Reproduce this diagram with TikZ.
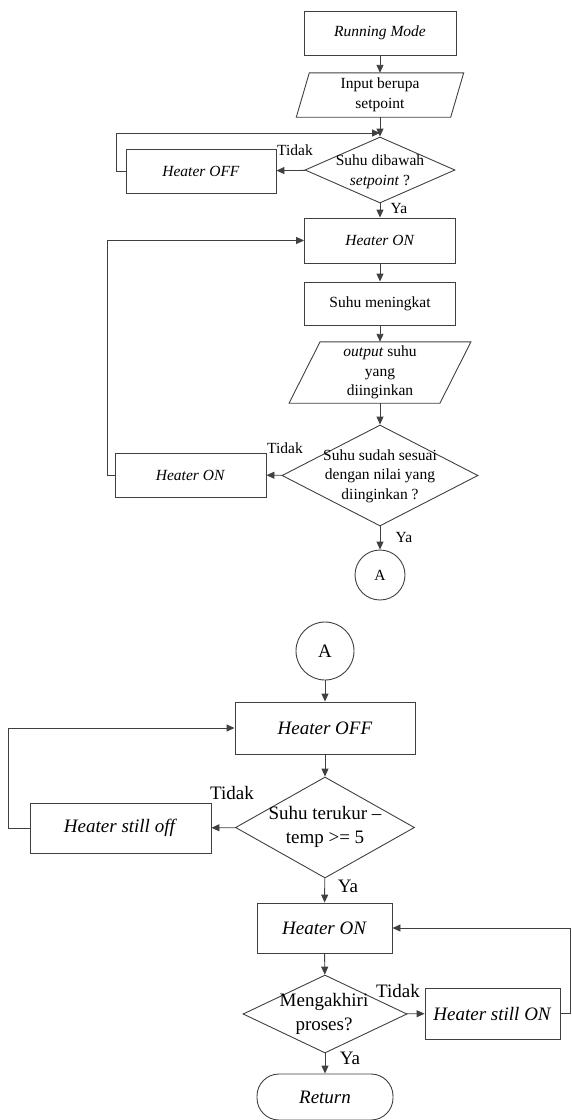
\documentclass[tikz,border=0pt]{standalone}
\usepackage{fontspec}
\setmainfont{Liberation Serif}
\usetikzlibrary{arrows.meta,shapes.geometric}
\begin{document}
\begin{tikzpicture}[x=1pt,y=-1pt,
  line/.style={draw=black!75, line width=0.9pt},
  arr/.style={line, -{Triangle[length=8pt,width=7pt]}},
  box/.style={rectangle, line, inner sep=0pt, align=center},
  upf/.style={font=\fontsize{15.5}{19.5}\selectfont},
  lof/.style={font=\fontsize{19}{23.5}\selectfont},
  dia/.style={diamond, line, inner sep=0pt},
  para/.style={rectangle, inner sep=0pt, align=center},
  lbl/.style={inner sep=0pt, align=center},
]
\useasboundingbox (0,0) rectangle (571,1120);

% ---------- upper part ----------
\node[box,upf,minimum width=152pt,minimum height=44pt] (rm) at (380,33) {\textit{Running Mode}};
\node[para,upf,minimum width=154pt,minimum height=44pt] (in) at (380,95) {Input berupa\\setpoint};
\draw[line] ([xshift=6.5pt]in.north west) -- ([xshift=6.5pt]in.north east) -- ([xshift=-6.5pt]in.south east) -- ([xshift=-6.5pt]in.south west) -- cycle;
\node[dia,minimum width=150pt,minimum height=66pt] (d1) at (380,170) {};
\node[lbl,upf] (d1t) at (380,172) {Suhu dibawah\\\textit{setpoint} ?};
\node[box,upf,minimum width=150pt,minimum height=44pt] (hoff1) at (201,171) {\textit{Heater OFF}};
\node[lbl,upf] (t1) at (295,150) {Tidak};
\coordinate (j1) at (380,133);
\node[lbl,upf] (ya1) at (399,208) {Ya};
\node[box,upf,minimum width=151pt,minimum height=45pt] (hon1) at (380,240.5) {\textit{Heater ON}};
\node[box,upf,minimum width=151pt,minimum height=43pt] (sm) at (380,303.5) {Suhu meningkat};
\node[para,upf,minimum width=150.5pt,minimum height=61pt] (out) at (380,372.5) {\textit{output} suhu\\yang\\diinginkan};
\draw[line] ([xshift=15.5pt]out.north west) -- ([xshift=15.5pt]out.north east) -- ([xshift=-15.5pt]out.south east) -- ([xshift=-15.5pt]out.south west) -- cycle;
\node[dia,minimum width=196pt,minimum height=101pt] (d2) at (380,475.5) {};
\node[lbl,upf] (d2t) at (380,476) {Suhu sudah sesuai\\dengan nilai yang\\diinginkan ?};
\node[box,upf,minimum width=151pt,minimum height=44pt] (hon2) at (190.5,475) {\textit{Heater ON}};
\node[lbl,upf] (t2) at (285,448) {Tidak};
\node[lbl,upf] (ya2) at (404,537) {Ya};
\node[circle,line,upf,minimum size=50pt,inner sep=0pt] (a1) at (380,575) {A};

\draw[arr] (rm) -- (in);
\draw[arr] (in) -- (d1);
\draw[arr] (d1) -- (hoff1);
\draw[arr] (hoff1.west) -- ++(-9pt,0) |- (j1);
\draw[arr] (d1) -- (hon1);
\draw[arr] (hon1) -- (sm);
\draw[arr] (sm) -- (out);
\draw[arr] (out) -- (d2);
\draw[arr] (d2) -- (hon2);
\draw[arr] (hon2.west) -- ++(-7pt,0) |- (hon1.west);
\draw[arr] (d2) -- (a1);

% ---------- lower part ----------
\node[circle,line,lof,minimum size=58pt,inner sep=0pt] (a2) at (325,651) {A};
\node[box,lof,minimum width=180pt,minimum height=52pt] (hoff2) at (325,728) {\textit{Heater OFF}};
\node[dia,minimum width=179pt,minimum height=101pt] (d3) at (325,827.5) {};
\node[lbl,lof] (d3t) at (325,827) {Suhu terukur –\\temp >= 5};
\node[box,lof,minimum width=181pt,minimum height=50pt] (hso) at (120.5,828) {\textit{Heater still off}};
\node[lbl,lof] (t3) at (232,793) {Tidak};
\node[lbl,lof] (ya3) at (348,886) {Ya};
\node[box,lof,minimum width=135pt,minimum height=50pt] (hon3) at (324.5,928) {\textit{Heater ON}};
\node[dia,minimum width=164pt,minimum height=78pt] (d4) at (325,1014) {};
\node[lbl,lof] (d4t) at (324,1014) {Mengakhiri\\proses?};
\node[box,lof,minimum width=135pt,minimum height=51pt] (hson) at (492.5,1013.5) {\textit{Heater still ON}};
\node[lbl,lof] (t4) at (398,991) {Tidak};
\node[lbl,lof] (ya4) at (350,1058) {Ya};
\node[box,lof,rounded corners=22pt,minimum width=136pt,minimum height=46pt] (ret) at (325,1097) {\textit{Return}};
\coordinate (redge) at (570,0);

\draw[arr] (a2) -- (hoff2);
\draw[arr] (hoff2) -- (d3);
\draw[arr] (d3) -- (hso);
\draw[arr] (hso.west) -- ++(-21pt,0) |- (hoff2.west);
\draw[arr] (d3) -- (hon3);
\draw[arr] (hon3) -- (d4);
\draw[arr] (d4) -- (hson);
\draw[arr] (hson.east) -- (hson.east -| redge) |- (hon3.east);
\draw[arr] (d4) -- (ret);
\end{tikzpicture}
\end{document}
